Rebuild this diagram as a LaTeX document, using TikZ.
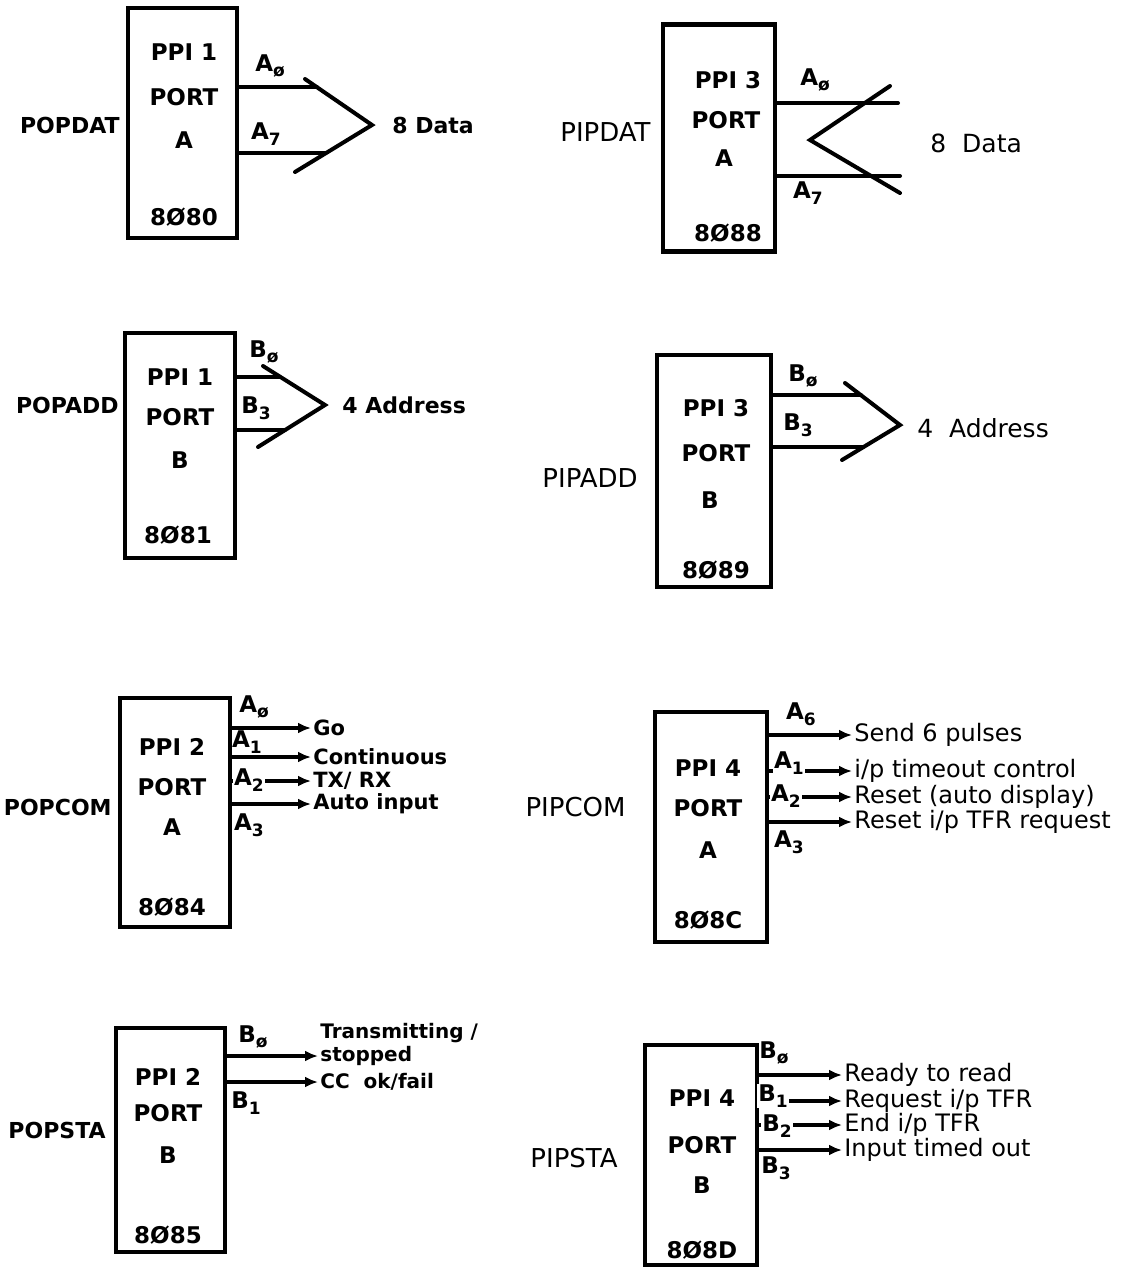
\documentclass[tikz,border=0pt]{standalone}
\usepackage{fontspec}
\setmainfont{DejaVu Sans}
\usetikzlibrary{arrows.meta}
\tikzset{
  chip/.style={draw, line width=2.2pt, inner sep=0pt},
  chiptxt/.style={font=\fontsize{11.5}{13}\selectfont\bfseries, inner sep=1pt},
  lblL/.style={font=\fontsize{11}{13}\selectfont\bfseries, anchor=east, inner sep=1pt},
  lblR/.style={font=\fontsize{13}{15}\selectfont, anchor=east, inner sep=1pt},
  pin/.style={font=\fontsize{11.5}{13}\selectfont\bfseries, inner sep=0.5pt},
  pinon/.style={pin, fill=white},
  outL/.style={font=\fontsize{10.5}{12}\selectfont\bfseries, anchor=west, inner sep=1pt},
  outR/.style={font=\fontsize{12}{14}\selectfont, anchor=west, inner sep=1pt},
  bus/.style={line width=2pt, line cap=round},
  sig/.style={line width=1.9pt, -{Latex[length=6.5pt,width=5.5pt]}},
}
\newcommand{\pn}[2]{#1\raisebox{-0.45ex}{\fontsize{8.5}{9}\selectfont #2}}

\begin{document}
\begin{tikzpicture}[x=0.5pt, y=-0.5pt]
  \useasboundingbox (0,0) rectangle (1120,1275);

  % ---- PPI 1 port A : POPDAT
  \node[chip, minimum width=54.5pt, minimum height=115pt] (p1a) at (182.5,123) {};
  \node[chiptxt] (p1a1) at (184,52) {PPI 1};
  \node[chiptxt] (p1a2) at (184,97) {PORT};
  \node[chiptxt] (p1a3) at (184,140) {A};
  \node[chiptxt] (p1a4) at (184,217) {8Ø80};
  \node[lblL] (l1a) at (122,125) {POPDAT};
  \coordinate (t1a) at (317,87); \coordinate (u1a) at (325,153);
  \coordinate (ap1a) at (372,125);
  \coordinate (bt1a) at (305,79); \coordinate (bb1a) at (295,172);
  \draw[bus] (p1a.east |- t1a) -- (t1a);
  \draw[bus] (p1a.east |- u1a) -- (u1a);
  \draw[bus] (bt1a) -- (ap1a) -- (bb1a);
  \node[pin] at (270,66) {\pn{A}{ø}};
  \node[pin] at (266,134) {\pn{A}{7}};
  \node[outL, font=\fontsize{11}{13}\selectfont\bfseries] (o1a) at (390,125) {8 Data};

  % ---- PPI 3 port A : PIPDAT
  \node[chip, minimum width=56pt, minimum height=113.5pt] (p3a) at (719,138) {};
  \node[chiptxt] (p3a1) at (728,80) {PPI 3};
  \node[chiptxt] (p3a2) at (726,120) {PORT};
  \node[chiptxt] (p3a3) at (724,158) {A};
  \node[chiptxt] (p3a4) at (728,233) {8Ø88};
  \node[lblR] (l3a) at (653,132) {PIPDAT};
  \coordinate (t3a) at (898,103); \coordinate (u3a) at (900,176);
  \coordinate (ap3a) at (810,140);
  \coordinate (bt3a) at (890,86); \coordinate (bb3a) at (900,193);
  \draw[bus] (p3a.east |- t3a) -- (t3a);
  \draw[bus] (p3a.east |- u3a) -- (u3a);
  \draw[bus] (bt3a) -- (ap3a) -- (bb3a);
  \node[pin] at (815,80) {\pn{A}{ø}};
  \node[pin] at (808,193) {\pn{A}{7}};
  \node[outR, font=\fontsize{12.5}{14}\selectfont] (o3a) at (928,143) {8\ \ Data};

  % ---- PPI 1 port B : POPADD
  \node[chip, minimum width=55pt, minimum height=112.5pt] (p1b) at (180,445.5) {};
  \node[chiptxt] (p1b1) at (180,377) {PPI 1};
  \node[chiptxt] (p1b2) at (180,417) {PORT};
  \node[chiptxt] (p1b3) at (180,460) {B};
  \node[chiptxt] (p1b4) at (178,535) {8Ø81};
  \node[lblL] (l1b) at (121,405) {POPADD};
  \coordinate (t1b) at (280,377); \coordinate (u1b) at (285,430);
  \coordinate (ap1b) at (325,405);
  \coordinate (bt1b) at (263,366); \coordinate (bb1b) at (258,447);
  \draw[bus] (p1b.east |- t1b) -- (t1b);
  \draw[bus] (p1b.east |- u1b) -- (u1b);
  \draw[bus] (bt1b) -- (ap1b) -- (bb1b);
  \node[pin] at (264,352) {\pn{B}{ø}};
  \node[pin] at (256,408) {\pn{B}{3}};
  \node[outL, font=\fontsize{11}{13}\selectfont\bfseries] (o1b) at (340,405) {4 Address};

  % ---- PPI 3 port B : PIPADD
  \node[chip, minimum width=57pt, minimum height=116pt] (p3b) at (714,471) {};
  \node[chiptxt] (p3b1) at (716,408) {PPI 3};
  \node[chiptxt] (p3b2) at (716,453) {PORT};
  \node[chiptxt] (p3b3) at (710,500) {B};
  \node[chiptxt] (p3b4) at (716,570) {8Ø89};
  \node[lblR] (l3b) at (640,478) {PIPADD};
  \coordinate (t3b) at (861,395); \coordinate (u3b) at (863,447);
  \coordinate (ap3b) at (900,425);
  \coordinate (bt3b) at (845,383); \coordinate (bb3b) at (842,460);
  \draw[bus] (p3b.east |- t3b) -- (t3b);
  \draw[bus] (p3b.east |- u3b) -- (u3b);
  \draw[bus] (bt3b) -- (ap3b) -- (bb3b);
  \node[pin] at (803,376) {\pn{B}{ø}};
  \node[pin] at (798,425) {\pn{B}{3}};
  \node[outR, font=\fontsize{12.5}{14}\selectfont] (o3b) at (915,428) {4\ \ Address};

  % ---- PPI 2 port A : POPCOM
  \node[chip, minimum width=55pt, minimum height=114.5pt] (p2a) at (175,812.5) {};
  \node[chiptxt] (p2a1) at (172,747) {PPI 2};
  \node[chiptxt] (p2a2) at (172,787) {PORT};
  \node[chiptxt] (p2a3) at (172,827) {A};
  \node[chiptxt] (p2a4) at (172,907) {8Ø84};
  \node[lblL] (l2a) at (114,807) {POPCOM};
  \node[outL] (o2a0) at (311,728) {Go};
  \node[outL] (o2a1) at (311,757) {Continuous};
  \node[outL] (o2a2) at (311,781) {TX/ RX};
  \node[outL] (o2a3) at (311,804) {Auto input};
  \draw[sig] (p2a.east |- o2a0.west) -- (o2a0.west);
  \draw[sig] (p2a.east |- o2a1.west) -- (o2a1.west);
  \draw[sig] (p2a.east |- o2a2.west) -- (o2a2.west);
  \draw[sig] (p2a.east |- o2a3.west) -- (o2a3.west);
  \node[pin] at (254,707) {\pn{A}{ø}};
  \node[pin] at (247,742) {\pn{A}{1}};
  \node[pinon] at (249,780) {\pn{A}{2}};
  \node[pin] at (249,825) {\pn{A}{3}};

  % ---- PPI 4 port A : PIPCOM
  \node[chip, minimum width=56pt, minimum height=115pt] (p4a) at (711,827) {};
  \node[chiptxt] (p4a1) at (708,768) {PPI 4};
  \node[chiptxt] (p4a2) at (708,808) {PORT};
  \node[chiptxt] (p4a3) at (708,850) {A};
  \node[chiptxt] (p4a4) at (708,920) {8Ø8C};
  \node[lblR] (l4a) at (628,807) {PIPCOM};
  \node[outR] (o4a0) at (852,735) {Send 6 pulses};
  \node[outR] (o4a1) at (852,771) {i/p timeout control};
  \node[outR] (o4a2) at (852,797) {Reset (auto display)};
  \node[outR] (o4a3) at (852,822) {Reset i/p TFR request};
  \draw[sig] (p4a.east |- o4a0.west) -- (o4a0.west);
  \draw[sig] (p4a.east |- o4a1.west) -- (o4a1.west);
  \draw[sig] (p4a.east |- o4a2.west) -- (o4a2.west);
  \draw[sig] (p4a.east |- o4a3.west) -- (o4a3.west);
  \node[pin] at (801,714) {\pn{A}{6}};
  \node[pinon] at (789,763) {\pn{A}{1}};
  \node[pinon] at (786,796) {\pn{A}{2}};
  \node[pin] at (789,842) {\pn{A}{3}};

  % ---- PPI 2 port B : POPSTA
  \node[chip, minimum width=54.5pt, minimum height=112pt] (p2b) at (170.5,1140) {};
  \node[chiptxt] (p2b1) at (168,1077) {PPI 2};
  \node[chiptxt] (p2b2) at (168,1113) {PORT};
  \node[chiptxt] (p2b3) at (168,1155) {B};
  \node[chiptxt] (p2b4) at (168,1235) {8Ø85};
  \node[lblL] (l2b) at (108,1130) {POPSTA};
  \node[outL, font=\fontsize{10}{12}\selectfont\bfseries] (o2bt) at (318,1033) {Transmitting /};
  \node[outL, font=\fontsize{10}{12}\selectfont\bfseries] (o2b0) at (318,1056) {stopped};
  \node[outL, font=\fontsize{10}{12}\selectfont\bfseries] (o2b1) at (318,1082) {CC\ \ ok/fail};
  \draw[sig] (p2b.east |- o2b0.west) -- (o2b0.west);
  \draw[sig] (p2b.east |- o2b1.west) -- (o2b1.west);
  \node[pin] at (253,1037) {\pn{B}{ø}};
  \node[pin] at (246,1103) {\pn{B}{1}};

  % ---- PPI 4 port B : PIPSTA
  \node[chip, minimum width=56pt, minimum height=110pt] (p4b) at (701,1155) {};
  \node[chiptxt] (p4b1) at (702,1098) {PPI 4};
  \node[chiptxt] (p4b2) at (702,1145) {PORT};
  \node[chiptxt] (p4b3) at (702,1185) {B};
  \node[chiptxt] (p4b4) at (702,1250) {8Ø8D};
  \node[lblR] (l4b) at (620,1158) {PIPSTA};
  \node[outR] (o4b0) at (842,1075) {Ready to read};
  \node[outR] (o4b1) at (842,1101) {Request i/p TFR};
  \node[outR] (o4b2) at (842,1125) {End i/p TFR};
  \node[outR] (o4b3) at (842,1150) {Input timed out};
  \draw[sig] (p4b.east |- o4b0.west) -- (o4b0.west);
  \draw[sig] (p4b.east |- o4b1.west) -- (o4b1.west);
  \draw[sig] (p4b.east |- o4b2.west) -- (o4b2.west);
  \draw[sig] (p4b.east |- o4b3.west) -- (o4b3.west);
  \node[pin] at (774,1053) {\pn{B}{ø}};
  \node[pinon] at (773,1096) {\pn{B}{1}};
  \node[pinon] at (777,1126) {\pn{B}{2}};
  \node[pin] at (776,1168) {\pn{B}{3}};
\end{tikzpicture}
\end{document}
